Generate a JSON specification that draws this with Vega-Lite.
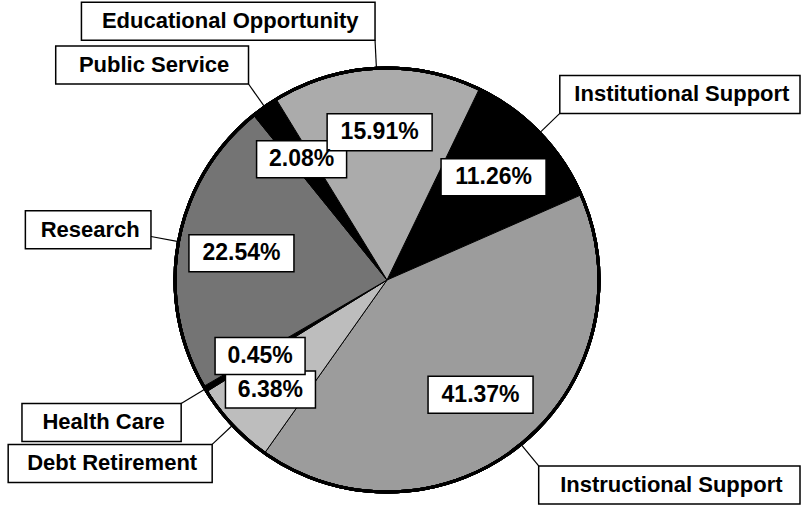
{
  "$schema": "https://vega.github.io/schema/vega-lite/v6.json",
  "width": 803,
  "height": 515,
  "autosize": {"type": "none"},
  "padding": 0,
  "background": "white",
  "config": {"view": {"stroke": null}, "font": "Liberation Sans"},
  "data": {
    "values": [
      {"category": "Institutional Support", "percent": 11.26},
      {"category": "Instructional Support", "percent": 41.37},
      {"category": "Debt Retirement", "percent": 6.38},
      {"category": "Health Care", "percent": 0.45},
      {"category": "Research", "percent": 22.54},
      {"category": "Public Service", "percent": 2.08},
      {"category": "Educational Opportunity", "percent": 15.91}
    ]
  },
  "transform": [
    {"window": [{"op": "row_number", "as": "idx"}, {"op": "sum", "field": "percent", "as": "cum"}], "frame": [null, 0]},
    {"joinaggregate": [{"op": "sum", "field": "percent", "as": "total"}]},
    {"calculate": "0.45 + 2*PI*(datum.cum - datum.percent/2)/datum.total", "as": "mid"},
    {"calculate": "format(datum.percent, '.2f') + '%'", "as": "pct"},
    {"calculate": "datum.category === 'Debt Retirement' ? 160 : 148", "as": "rl"},
    {"calculate": "datum.rl*sin(datum.mid)", "as": "lx"},
    {"calculate": "datum.rl*cos(datum.mid)", "as": "ly"},
    {"calculate": "15*length(datum.pct) + 15", "as": "bw"},
    {"calculate": "datum.lx - datum.bw/2", "as": "lx1"},
    {"calculate": "datum.lx + datum.bw/2", "as": "lx2"},
    {"calculate": "datum.ly - 18.5", "as": "ly1"},
    {"calculate": "datum.ly + 18.5", "as": "ly2"},
    {"calculate": "212*sin(datum.mid)", "as": "ex"},
    {"calculate": "212*cos(datum.mid)", "as": "ey"},
    {"calculate": "240*sin(datum.mid)", "as": "cx"},
    {"calculate": "240*cos(datum.mid)", "as": "cy"},
    {"calculate": "11.2*length(datum.category) + 36", "as": "cw"},
    {"calculate": "datum.cx < 0 ? max(datum.cx - datum.cw, -385) : datum.cx", "as": "cx1"},
    {"calculate": "datum.cx < 0 ? datum.cx : min(datum.cx + datum.cw, 413)", "as": "cx2"},
    {"calculate": "(datum.cx1 + datum.cx2)/2 + 2", "as": "cxm"},
    {"calculate": "datum.cy + 19*clamp(2*cos(datum.mid), -1, 1)", "as": "cym"},
    {"calculate": "datum.cym - 19", "as": "cy1"},
    {"calculate": "datum.cym + 19", "as": "cy2"}
  ],
  "layer": [
    {
      "mark": {"type": "arc", "outerRadius": 212, "stroke": "black", "strokeWidth": 1},
      "encoding": {
        "theta": {"field": "percent", "type": "quantitative", "stack": true, "scale": {"range": [0.45, 6.7332]}},
        "order": {"field": "idx", "type": "quantitative"},
        "color": {
          "field": "category",
          "type": "nominal",
          "legend": null,
          "scale": {
            "domain": ["Institutional Support", "Instructional Support", "Debt Retirement", "Health Care", "Research", "Public Service", "Educational Opportunity"],
            "range": ["#000000", "#9c9c9c", "#bdbdbd", "#000000", "#747474", "#000000", "#ababab"]
          }
        },
        "x": {"datum": 0, "type": "quantitative", "scale": {"domain": [-387, 416], "nice": false, "zero": false}, "axis": null},
        "y": {"datum": 0, "type": "quantitative", "scale": {"domain": [-235, 280], "nice": false, "zero": false}, "axis": null}
      }
    },
    {
      "mark": {"type": "point", "shape": "circle", "filled": false, "stroke": "black", "strokeWidth": 3, "size": 179776, "opacity": 1},
      "encoding": {
        "x": {"datum": 0, "type": "quantitative"},
        "y": {"datum": 0, "type": "quantitative"}
      }
    },
    {
      "mark": {"type": "rule", "color": "black", "strokeWidth": 1.2},
      "encoding": {
        "x": {"field": "ex", "type": "quantitative"},
        "y": {"field": "ey", "type": "quantitative"},
        "x2": {"field": "cx"},
        "y2": {"field": "cy"}
      }
    },
    {
      "mark": {"type": "rect", "fill": "white", "stroke": "black", "strokeWidth": 1.5},
      "encoding": {
        "x": {"field": "cx1", "type": "quantitative"},
        "x2": {"field": "cx2"},
        "y": {"field": "cy1", "type": "quantitative"},
        "y2": {"field": "cy2"}
      }
    },
    {
      "mark": {"type": "text", "fontSize": 22, "fontWeight": "bold", "align": "center", "baseline": "middle", "color": "black"},
      "encoding": {
        "x": {"field": "cxm", "type": "quantitative"},
        "y": {"field": "cym", "type": "quantitative"},
        "text": {"field": "category"}
      }
    },
    {
      "mark": {"type": "rect", "fill": "white", "stroke": "black", "strokeWidth": 1.5},
      "encoding": {
        "x": {"field": "lx1", "type": "quantitative"},
        "x2": {"field": "lx2"},
        "y": {"field": "ly1", "type": "quantitative"},
        "y2": {"field": "ly2"}
      }
    },
    {
      "mark": {"type": "text", "fontSize": 23, "fontWeight": "bold", "align": "center", "baseline": "middle", "color": "black"},
      "encoding": {
        "x": {"field": "lx", "type": "quantitative"},
        "y": {"field": "ly", "type": "quantitative"},
        "text": {"field": "pct"}
      }
    }
  ]
}
